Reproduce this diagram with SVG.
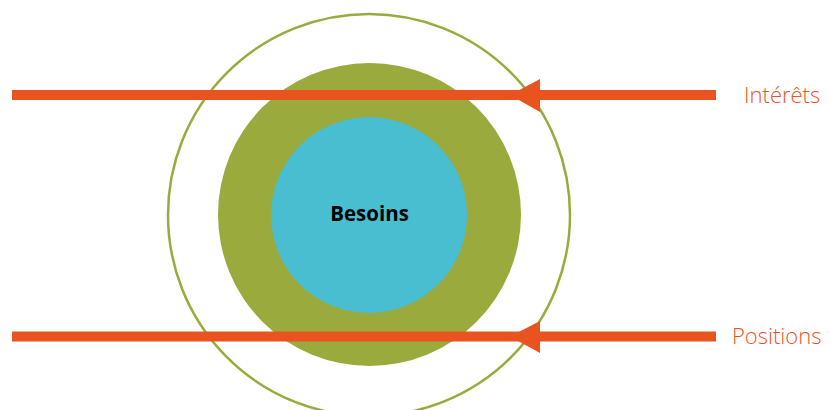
<svg xmlns="http://www.w3.org/2000/svg" width="830" height="410" viewBox="0 0 830 410">
  <style>
    .bar { stroke: #E9531F; stroke-width: 10; fill: none; }
    .head { fill: #E9531F; }
    .side { font-family: "Open Sans", "Liberation Sans", sans-serif; font-weight: 300; font-size: 22px; fill: #E9531F; }
    .core { font-family: "Open Sans", "Liberation Sans", sans-serif; font-weight: 700; font-size: 20.5px; fill: #000; }
  </style>
  <rect width="830" height="410" fill="#fff"/>

  <g id="outer-ring">
    <circle cx="369" cy="215" r="201" fill="none" stroke="#9AAA3C" stroke-width="2.5"/>
  </g>
  <g id="middle-disc">
    <circle cx="369.5" cy="214.5" r="151.5" fill="#9AAA3C"/>
  </g>
  <g id="besoins">
    <circle cx="369" cy="215" r="98" fill="#49BED1"/>
    <text class="core" x="369.5" y="220.5" text-anchor="middle">Besoins</text>
  </g>

  <g id="connectors">
    <line class="bar" x1="12" y1="95" x2="716" y2="95"/>
    <polygon class="head" points="510,95 540,79 540,112"/>
    <line class="bar" x1="12" y1="336.5" x2="716" y2="336.5"/>
    <polygon class="head" points="510,336.5 540,321 540,353"/>
  </g>

  <g id="interets">
    <text class="side" x="744" y="103">Intérêts</text>
  </g>
  <g id="positions">
    <text class="side" x="732" y="343.5">Positions</text>
  </g>
</svg>
